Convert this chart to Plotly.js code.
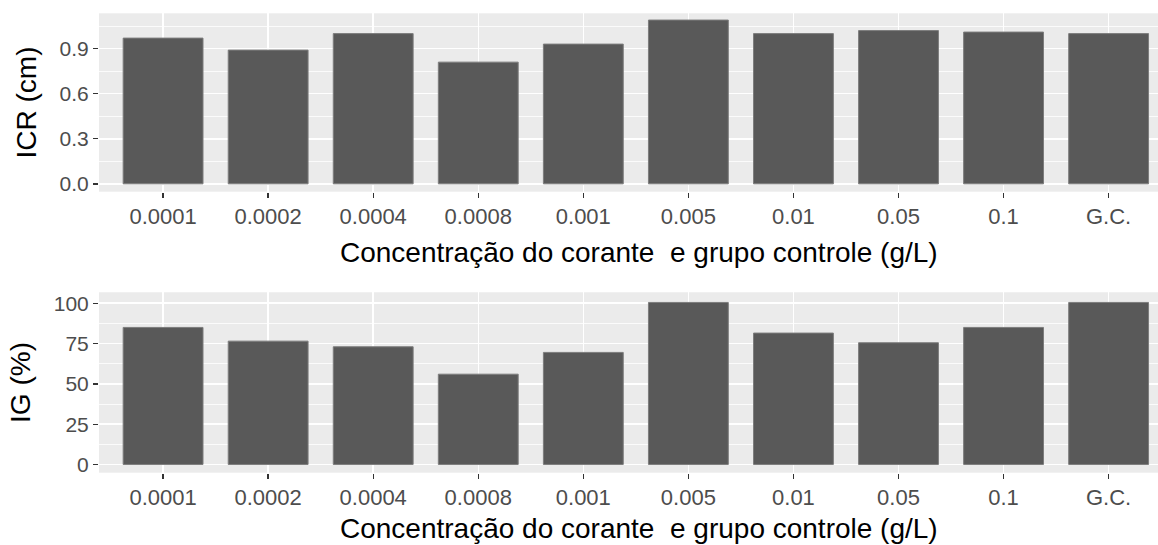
<!DOCTYPE html>
<html>
<head>
<meta charset="utf-8">
<script src="https://cdn.plot.ly/plotly-3.0.1.min.js"></script>
<style>html,body{margin:0;padding:0;background:#fff;}#chart{width:1158px;height:545px;}</style>
</head>
<body>
<div id="chart"></div>
<script>
const categories = ["0.0001","0.0002","0.0004","0.0008","0.001","0.005","0.01","0.05","0.1","G.C."];
const icrValues = [0.97, 0.89, 1.00, 0.81, 0.93, 1.09, 1.00, 1.02, 1.01, 1.00];
const igValues = [85, 76.5, 73, 56, 69.5, 100.5, 81.5, 75.5, 85, 100.5];
const icrTitle = "ICR (cm)";
const igTitle = "IG (%)";
const xTitle = "Concentração do corante \u00a0e grupo controle (g/L)";

const FONT = "Liberation Sans, Arial, Helvetica, sans-serif";
const barStyle = {color: "#595959", line: {color: "#7d7d7d", width: 1}};

const traces = [
  {type: "bar", x: categories, y: icrValues, xaxis: "x", yaxis: "y", width: 0.76, marker: barStyle, hoverinfo: "x+y"},
  {type: "bar", x: categories, y: igValues, xaxis: "x2", yaxis: "y2", width: 0.76, marker: barStyle, hoverinfo: "x+y"}
];

function xAxis(anchor) {
  return {
    anchor: anchor, domain: [0, 1], type: "category",
    categoryorder: "array", categoryarray: categories,
    range: [-0.61, 9.47], fixedrange: true,
    showgrid: true, gridcolor: "#ffffff", gridwidth: 1.5,
    zeroline: false, showline: false,
    ticks: "outside", ticklen: 5, tickwidth: 1.3, tickcolor: "#333333",
    tickfont: {family: FONT, size: 22, color: "#4d4d4d"},
    automargin: false
  };
}
function yAxis(anchor, domain, range, dtick, fmt, title) {
  return {
    anchor: anchor, domain: domain, range: range, fixedrange: true,
    tickmode: "linear", tick0: 0, dtick: dtick, tickformat: fmt,
    showgrid: true, gridcolor: "#ffffff", gridwidth: 1.5,
    minor: {tickmode: "linear", tick0: 0, dtick: dtick / 2, showgrid: true, gridcolor: "#ffffff", gridwidth: 0.8, ticks: ""},
    zeroline: false, showline: false,
    ticks: "outside", ticklen: 5, tickwidth: 1.3, tickcolor: "#333333",
    tickfont: {family: FONT, size: 21, color: "#4d4d4d"},
    title: {text: title, font: {family: FONT, size: 28, color: "#000000"}, standoff: 14},
    automargin: false
  };
}

function xTitleAnn(yPaper) {
  return {text: xTitle, xref: "paper", yref: "paper", x: 0.5099, y: yPaper,
    xanchor: "center", yanchor: "middle", showarrow: false,
    font: {family: FONT, size: 28, color: "#000000"}};
}

const layout = {
  width: 1158, height: 545,
  margin: {l: 99, r: 0, t: 0, b: 0, pad: 0},
  paper_bgcolor: "#ffffff", plot_bgcolor: "#ebebeb",
  showlegend: false, bargap: 0,
  xaxis: xAxis("y"),
  yaxis: yAxis("x", [0.6483, 0.9756], [-0.052, 1.135], 0.3, ".1f", icrTitle),
  xaxis2: xAxis("y2"),
  yaxis2: yAxis("x2", [0.1327, 0.4637], [-5.1, 106.8], 25, "d", igTitle),
  annotations: [xTitleAnn(0.5376), xTitleAnn(0.0294)],
  font: {family: FONT}
};

Plotly.newPlot("chart", traces, layout, {displayModeBar: false, staticPlot: true});
</script>
</body>
</html>
